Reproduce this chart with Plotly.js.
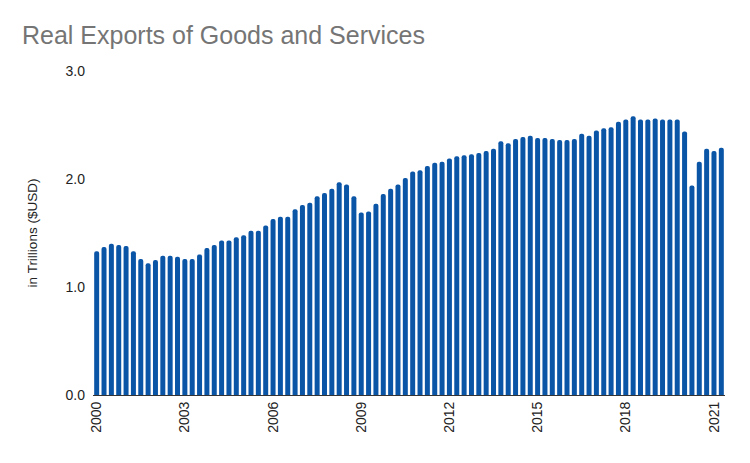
<!DOCTYPE html>
<html>
<head>
<meta charset="utf-8">
<script src="https://cdn.plot.ly/plotly-3.0.1.min.js"></script>
<style>
  html, body { margin: 0; padding: 0; background: #fff; }
  #chart { width: 750px; height: 463px; }
</style>
</head>
<body>
<div id="chart"></div>
<script>
// quarterly real exports, trillions of USD, 2000 Q1 .. 2021 Q2
var firstYear = 2000;
var exportsTrillions = [
    1.33, 1.37, 1.40, 1.39, 1.38, 1.33, 1.26, 1.22,
    1.25, 1.29, 1.29, 1.28, 1.26, 1.26, 1.30, 1.36,
    1.39, 1.43, 1.43, 1.46, 1.48, 1.52, 1.52, 1.57,
    1.63, 1.65, 1.65, 1.72, 1.76, 1.78, 1.84, 1.87,
    1.91, 1.97, 1.95, 1.84, 1.69, 1.70, 1.77, 1.86,
    1.91, 1.95, 2.01, 2.07, 2.08, 2.12, 2.15, 2.16,
    2.19, 2.21, 2.22, 2.23, 2.24, 2.26, 2.28, 2.35,
    2.33, 2.37, 2.39, 2.40, 2.38, 2.38, 2.37, 2.36,
    2.36, 2.37, 2.42, 2.40, 2.45, 2.47, 2.48, 2.53,
    2.55, 2.58, 2.55, 2.55, 2.56, 2.55, 2.55, 2.55,
    2.44, 1.94, 2.16, 2.28, 2.26, 2.29
];
var tickYears = [2000, 2003, 2006, 2009, 2012, 2015, 2018, 2021];
var yTicks = [0, 1, 2, 3];

var quarters = [];
for (var iii = 0; iii < exportsTrillions.length; iii++)
{
    quarters.push((firstYear + Math.floor(iii / 4)) + ' Q' + (iii % 4 + 1));
}
var tickVals = [];
var tickText = [];
for (iii = 0; iii < tickYears.length; iii++)
{
    tickVals.push(tickYears[iii] + ' Q1');
    tickText.push(String(tickYears[iii]));
}

var trace1 =
{
    x: quarters,
    y: exportsTrillions,
    type: 'bar',
    marker: {color: '#0b55a7', cornerradius: 3, line: {width: 0}},
    hoverinfo: 'x+y'
};

var layout =
{
    width: 750,
    height: 463,
    paper_bgcolor: '#fff',
    plot_bgcolor: '#fff',
    font: {family: 'Liberation Sans, Arial, sans-serif', size: 14, color: '#222'},
    title: {
        text: 'Real Exports of Goods and Services',
        font: {size: 25, color: '#757575'},
        x: 22 / 750, xref: 'container', xanchor: 'left',
        y: 1 - 35 / 463, yref: 'container', yanchor: 'middle'
    },
    showlegend: false,
    bargap: 0.32,
    xaxis: {
        type: 'category',
        range: [-0.5, exportsTrillions.length - 0.5],
        tickvals: tickVals,
        ticktext: tickText,
        tickangle: -90,
        tickfont: {size: 14},
        ticks: '',
        showgrid: false,
        showline: true,
        linecolor: '#333',
        linewidth: 1,
        zeroline: false,
        fixedrange: true
    },
    yaxis: {
        range: [0, 3],
        tickvals: yTicks,
        tickformat: '.1f',
        tickfont: {size: 14},
        ticklabelstandoff: 7,
        ticks: '',
        showgrid: false,
        showline: false,
        zeroline: false,
        title: {text: 'in Trillions ($USD)', font: {size: 13.5, color: '#222'}, standoff: 24},
        fixedrange: true
    },
    margin: {l: 93, r: 25, t: 71, b: 68}
};

Plotly.newPlot('chart', [trace1], layout, {displayModeBar: false, staticPlot: true});
</script>
</body>
</html>
